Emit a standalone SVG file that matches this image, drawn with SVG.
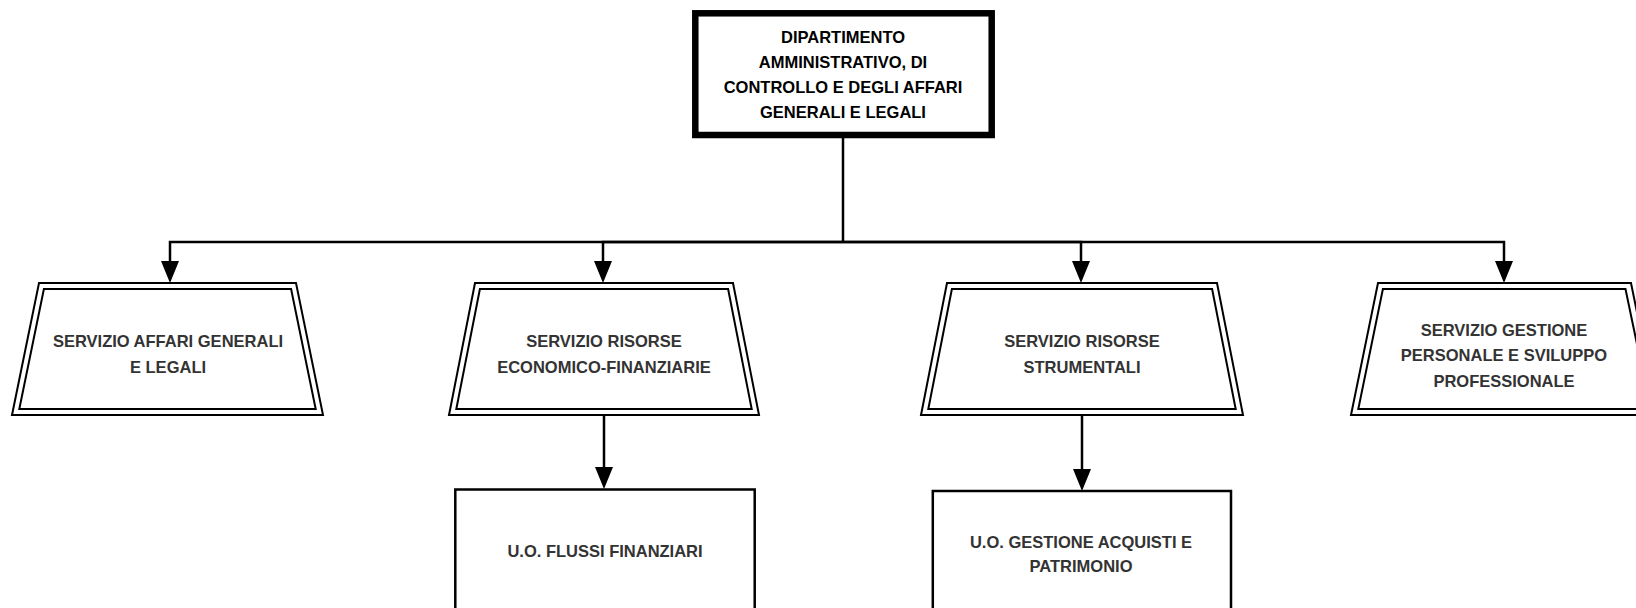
<svg xmlns="http://www.w3.org/2000/svg" width="1636" height="608" viewBox="0 0 1636 608">
<style>
  .t { font-family: "Liberation Sans", Arial, sans-serif; font-weight: bold; font-size: 16.5px; text-anchor: middle; fill: #333; }
  .tb { fill: #000; }
  .trap { fill: #fff; stroke: #000; stroke-width: 2; }
  .box { fill: #fff; stroke: #000; stroke-width: 2.5; }
  .conn { fill: none; stroke: #000; stroke-width: 2.5; }
</style>
<defs>
  <marker id="arr" markerUnits="userSpaceOnUse" markerWidth="22" markerHeight="18" refX="17" refY="9" orient="auto">
    <path d="M0,0 L22,9 L0,18 Z" fill="#000"/>
  </marker>
</defs>
<rect width="1636" height="608" fill="#fff"/>

<g id="connectors">
  <path class="conn" d="M843,138 V242"/>
  <path class="conn" d="M843,242 H170 V278" marker-end="url(#arr)"/>
  <path class="conn" d="M843,242 H603 V278" marker-end="url(#arr)"/>
  <path class="conn" d="M843,242 H1081 V278" marker-end="url(#arr)"/>
  <path class="conn" d="M843,242 H1504 V278" marker-end="url(#arr)"/>
  <path class="conn" d="M604,415 V484" marker-end="url(#arr)"/>
  <path class="conn" d="M1082,415 V486" marker-end="url(#arr)"/>
</g>

<g id="dipartimento">
  <rect x="695.3" y="13.3" width="296.4" height="121.7" fill="#fff" stroke="#000" stroke-width="6.5"/>
  <text class="t tb" x="843" y="42.5">DIPARTIMENTO</text>
  <text class="t tb" x="843" y="67.5">AMMINISTRATIVO, DI</text>
  <text class="t tb" x="843" y="92.8">CONTROLLO E DEGLI AFFARI</text>
  <text class="t tb" x="843" y="118">GENERALI E LEGALI</text>
</g>

<g id="servizio-affari-generali">
  <polygon class="trap" points="39,283 296,283 323,415 12,415"/>
  <polygon class="trap" points="43.9,289 291.1,289 315.7,409 19.3,409"/>
  <text class="t" x="168" y="346.5">SERVIZIO AFFARI GENERALI</text>
  <text class="t" x="168" y="372.5">E LEGALI</text>
</g>

<g id="servizio-risorse-economico">
  <polygon class="trap" points="475,283 733,283 759,415 449,415"/>
  <polygon class="trap" points="479.9,289 728.1,289 751.7,409 456.3,409"/>
  <text class="t" x="604" y="346.5">SERVIZIO RISORSE</text>
  <text class="t" x="604" y="372.5">ECONOMICO-FINANZIARIE</text>
</g>

<g id="servizio-risorse-strumentali">
  <polygon class="trap" points="947,283 1217,283 1243,415 921,415"/>
  <polygon class="trap" points="951.9,289 1212.1,289 1235.7,409 928.3,409"/>
  <text class="t" x="1082" y="346.5">SERVIZIO RISORSE</text>
  <text class="t" x="1082" y="372.5">STRUMENTALI</text>
</g>

<g id="servizio-gestione-personale">
  <polygon class="trap" points="1378,283 1631,283 1658,415 1351,415"/>
  <polygon class="trap" points="1382.9,289 1625.5,289 1650.5,409 1358.3,409"/>
  <text class="t" x="1504" y="335.5">SERVIZIO GESTIONE</text>
  <text class="t" x="1504" y="361">PERSONALE E SVILUPPO</text>
  <text class="t" x="1504" y="386.5">PROFESSIONALE</text>
</g>

<g id="uo-flussi-finanziari">
  <rect class="box" x="455.3" y="489.5" width="299.4" height="140"/>
  <text class="t" x="605" y="556.5">U.O. FLUSSI FINANZIARI</text>
</g>

<g id="uo-gestione-acquisti">
  <rect class="box" x="932.8" y="491" width="298.2" height="140"/>
  <text class="t" x="1081" y="547.5">U.O. GESTIONE ACQUISTI E</text>
  <text class="t" x="1081" y="572">PATRIMONIO</text>
</g>
</svg>
